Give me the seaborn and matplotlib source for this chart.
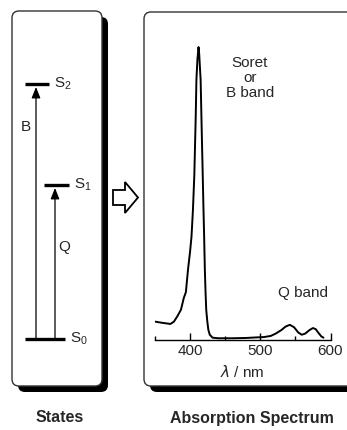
import matplotlib
matplotlib.use("Agg")
import matplotlib.pyplot as plt
from matplotlib.patches import FancyBboxPatch, Polygon
import seaborn as sns
import pandas as pd

# ---------------- data ----------------
wavelength = [350, 360, 372, 377, 382, 387, 391, 394, 397, 400, 402, 404, 406,
              408, 409, 410.5, 412, 413, 414, 415, 416.5, 418, 419, 420, 421,
              422, 423, 424.5, 426, 428, 432, 440, 460, 480, 495, 505, 515,
              522, 530, 536, 542, 548, 554, 559, 564, 570, 575, 579, 583,
              587, 590]
absorbance = [0.059, 0.055, 0.051, 0.059, 0.078, 0.100, 0.140, 0.160, 0.237,
              0.300, 0.351, 0.440, 0.560, 0.760, 0.888, 0.960, 1.000, 0.975,
              0.930, 0.888, 0.720, 0.560, 0.450, 0.351, 0.237, 0.160, 0.099,
              0.060, 0.031, 0.014, 0.004, 0.002, 0.002, 0.003, 0.005, 0.006,
              0.010, 0.018, 0.030, 0.042, 0.048, 0.040, 0.022, 0.014, 0.018,
              0.030, 0.037, 0.033, 0.020, 0.008, 0.004]
x_ticks = [400, 500, 600]
x_minor = [350, 450, 550]

states = ["S$_\\mathregular{0}$", "S$_\\mathregular{1}$", "S$_\\mathregular{2}$"]
state_energy = [0.0, 1.51, 2.50]
transitions = ["B", "Q"]
transition_to = [2, 1]

band_labels = ["Soret\nor\nB band", "Q band"]
panel_titles = ["States", "Absorption Spectrum"]

# ---------------- style ----------------
sns.set_theme(style="white")
plt.rcParams["font.family"] = ["Liberation Sans", "DejaVu Sans"]

W, H = 347, 430
fig = plt.figure(figsize=(W / 100, H / 100), dpi=100)

# background axes in pixel coordinates (y downward)
bg = fig.add_axes([0, 0, 1, 1])
bg.set_xlim(0, W)
bg.set_ylim(H, 0)
bg.axis("off")

def panel(x0, y0, x1, y1):
    shadow = FancyBboxPatch((x0 + 6, y0 + 6), x1 - x0, y1 - y0,
                            boxstyle="round,pad=0,rounding_size=7",
                            fc="black", ec="black", lw=0)
    box = FancyBboxPatch((x0, y0), x1 - x0, y1 - y0,
                         boxstyle="round,pad=0,rounding_size=7",
                         fc="white", ec="#333333", lw=1.0)
    bg.add_patch(shadow)
    bg.add_patch(box)

panel(12, 11, 102, 386)
panel(144, 12, 380, 386)

# hollow arrow between panels
arrow_pts = [(113, 190), (125, 190), (125, 182), (138, 197.5),
             (125, 213), (125, 205), (113, 205)]
bg.add_patch(Polygon(arrow_pts, closed=True, fc="white", ec="black", lw=1.3,
                     joinstyle="miter"))

# energy level diagram
def ypix(e):
    return 339 - 102 * e

level_x = [(25, 65), (44, 69), (25, 49)]
for (xa, xb), lab, e in zip(level_x, states, state_energy):
    y = ypix(e)
    bg.plot([xa, xb], [y, y], color="black", lw=2.4, solid_capstyle="butt")
    bg.text(xb + 5, y, lab, fontsize=11, ha="left", va="center")

arrow_x = [36, 55]
label_pos = [(26, 127), (64, 247)]
for ax_x, tr, tgt, (lx, ly) in zip(arrow_x, transitions, transition_to, label_pos):
    bg.annotate("", xy=(ax_x, ypix(state_energy[tgt]) + 3),
                xytext=(ax_x, ypix(state_energy[0]) - 1),
                arrowprops=dict(arrowstyle="-|>,head_length=0.55,head_width=0.22",
                                color="black", lw=0.9, shrinkA=0, shrinkB=0))
    bg.text(lx, ly, tr, fontsize=11, ha="center", va="center")

# labels in the spectrum panel
bg.text(250, 78, band_labels[0], fontsize=11, ha="center", va="center",
        linespacing=1.05)
bg.text(303, 293, band_labels[1], fontsize=11, ha="center", va="center")

bg.text(60, 418, panel_titles[0], fontsize=11.5, fontweight="bold",
        ha="center", va="center")
bg.text(252, 418, panel_titles[1], fontsize=11.5, fontweight="bold",
        ha="center", va="center")

# ---------------- spectrum ----------------
ax = fig.add_axes([155 / W, 90 / H, 175.5 / W, 307.5 / H])
ax.patch.set_alpha(0)
df = pd.DataFrame({"wavelength": wavelength, "absorbance": absorbance})
sns.lineplot(data=df, x="wavelength", y="absorbance", ax=ax,
             color="black", lw=1.4, sort=False)
ax.set_xlim(350, 600)
ax.set_ylim(-0.004, 1.05)
ax.set_yticks([])
ax.set_ylabel("")
for s in ["left", "right", "top"]:
    ax.spines[s].set_visible(False)
ax.spines["bottom"].set_color("black")
ax.spines["bottom"].set_linewidth(1.0)
ax.set_xticks(x_ticks)
ax.set_xticks(x_minor, minor=True)
ax.tick_params(axis="x", which="major", direction="in", length=5, width=1,
               color="black", labelsize=11, pad=3, bottom=True)
ax.tick_params(axis="x", which="minor", direction="in", length=3, width=1,
               color="black", bottom=True)
ax.set_xlabel(r"$\lambda$ / nm", fontsize=11, labelpad=4)
ax.grid(False)

fig.savefig("out.png", dpi=100)
